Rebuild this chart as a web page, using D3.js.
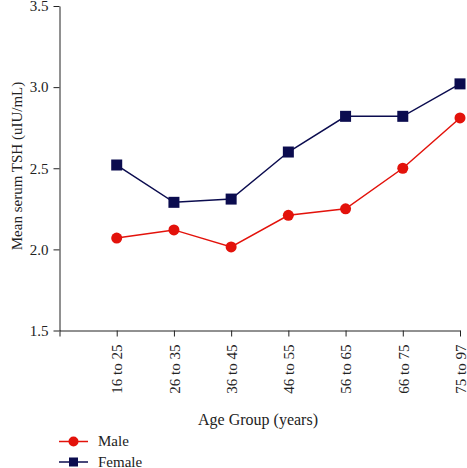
<!DOCTYPE html>
<html><head><meta charset="utf-8">
<script src="https://cdn.jsdelivr.net/npm/d3@7"></script>
<style>body{margin:0;background:#fff}svg{display:block}text{font-family:"Liberation Serif","Times New Roman",serif}</style>
</head><body><svg id="c" width="467" height="468"></svg>
<script>
const categories = ["16 to 25","26 to 35","36 to 45","46 to 55","56 to 65","66 to 75","75 to 97"];
const maleValues = [2.07, 2.12, 2.015, 2.21, 2.25, 2.50, 2.81];
const femaleValues = [2.52, 2.29, 2.31, 2.60, 2.82, 2.82, 3.02];
const yTicks = [1.5, 2.0, 2.5, 3.0, 3.5];
const seriesNames = ["Male", "Female"];

const svg = d3.select("#c");
const red = "#e3120b", navy = "#0b0c4f";
const x = d3.scaleLinear().domain([0, categories.length]).range([59.5, 460]);
const y = d3.scaleLinear().domain([1.5, 3.5]).range([330.5, 6]);

const yAxis = d3.axisLeft(y).tickValues(yTicks).tickFormat(d3.format(".1f")).tickSize(6).tickSizeOuter(0);
const gy = svg.append("g").attr("transform","translate(59.5,0)").call(yAxis);
gy.selectAll("text").attr("font-size",15).attr("fill","#222").attr("font-family","Liberation Serif").attr("dx","-2");
gy.select(".domain").attr("stroke","#222");
gy.selectAll(".tick line").attr("stroke","#222");

const xAxis = d3.axisBottom(x).tickValues(d3.range(0, categories.length+1)).tickFormat(i => i===0 ? "" : categories[i-1]).tickSize(6).tickSizeOuter(0);
const gx = svg.append("g").attr("transform","translate(0,330.5)").call(xAxis);
gx.select(".domain").attr("stroke","#222");
gx.selectAll(".tick line").attr("stroke","#222");
gx.selectAll("text").attr("font-size",15).attr("fill","#222").attr("font-family","Liberation Serif")
  .attr("transform","rotate(-90)").attr("text-anchor","end").attr("x",-14).attr("y",0).attr("dy","0.35em");

svg.append("text").attr("transform","translate(22,166) rotate(-90)").attr("text-anchor","middle")
  .attr("font-size",15).attr("fill","#222").text("Mean serum TSH (uIU/mL)");
svg.append("text").attr("x",258).attr("y",425).attr("text-anchor","middle")
  .attr("font-size",16).attr("fill","#222").text("Age Group (years)");

const line = d3.line().x((d,i)=>x(i+1)).y(d=>y(d));
svg.append("path").datum(femaleValues).attr("d",line).attr("fill","none").attr("stroke",navy).attr("stroke-width",1.5);
svg.append("path").datum(maleValues).attr("d",line).attr("fill","none").attr("stroke",red).attr("stroke-width",1.5);
svg.selectAll(".fm").data(femaleValues).join("rect").attr("x",(d,i)=>x(i+1)-5.5).attr("y",d=>y(d)-5.5)
  .attr("width",11).attr("height",11).attr("fill",navy);
svg.selectAll(".mm").data(maleValues).join("circle").attr("cx",(d,i)=>x(i+1)).attr("cy",d=>y(d)).attr("r",5.5).attr("fill",red);

const leg = [{name:seriesNames[0], c:red, shape:"circle", yy:441.5},{name:seriesNames[1], c:navy, shape:"rect", yy:462}];
leg.forEach(l=>{
  svg.append("line").attr("x1",59).attr("x2",88).attr("y1",l.yy).attr("y2",l.yy).attr("stroke",l.c).attr("stroke-width",1.5);
  if(l.shape==="circle") svg.append("circle").attr("cx",73.5).attr("cy",l.yy).attr("r",5).attr("fill",l.c);
  else svg.append("rect").attr("x",69).attr("y",l.yy-4.5).attr("width",9).attr("height",9).attr("fill",l.c);
  svg.append("text").attr("x",98).attr("y",l.yy).attr("dy","0.33em").attr("font-size",15).attr("fill","#222").text(l.name);
});
</script></body></html>
